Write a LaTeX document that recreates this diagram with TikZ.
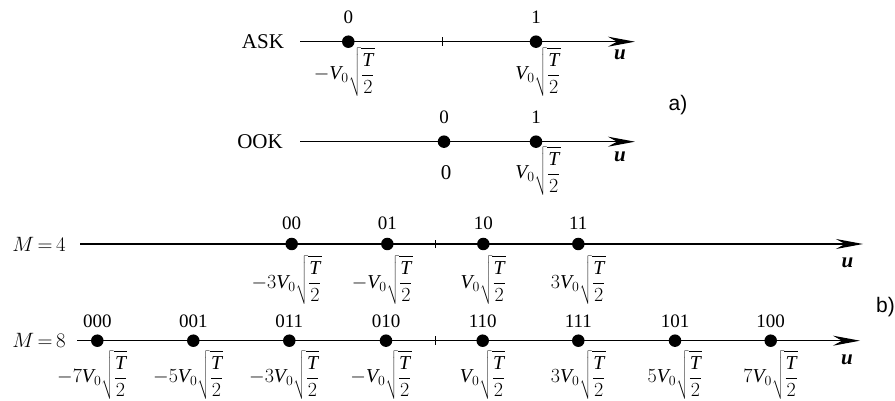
\documentclass[tikz,border=0pt]{standalone}
\usepackage{graphicx}
\usepackage{fontspec}
\setmainfont{Liberation Serif}
\newfontfamily\sansf{Liberation Sans}
\usetikzlibrary{arrows.meta,calc}
\newcommand\vv[1]{\scalebox{1.16}{$\displaystyle #1\mathit{V}_0\sqrt{\frac{\mathit{T}}{2}}$}}
\begin{document}
\begin{tikzpicture}[x=1pt,y=1pt,
  axis/.style={line width=1.2pt,-{Stealth[length=27pt,width=10pt,inset=9pt]}},
  tickmark/.style={line width=0.8pt},
  dotpt/.style={circle,fill=black,inner sep=0pt,minimum size=12.5pt},
  bits/.style={font=\fontsize{19}{21}\selectfont,inner sep=0pt},
  val/.style={font=\fontsize{17}{19}\selectfont,inner sep=0pt},
  rowname/.style={font=\fontsize{21}{23}\selectfont,inner sep=0pt},
  unode/.style={font=\fontsize{21}{23}\selectfont\bfseries\itshape,inner sep=0pt},
  part/.style={font=\fontsize{21}{23}\selectfont\sansf,inner sep=0pt}]
\useasboundingbox (0,0) rectangle (895,401);

% ---------- ASK ----------
\coordinate (askS) at (300,359.3);
\coordinate (askE) at (635,359.3);
\coordinate (askT) at (442.7,359.3);
\draw[axis] (askS) -- (askE);
\draw[tickmark] ($(askT)+(0,-4.2)$) -- ($(askT)+(0,4.2)$);
\node[rowname] (askL) at (263,359.3) {ASK};
\node[dotpt] (ask0) at (348.3,359.3) {};
\node[dotpt] (ask1) at (536,359.3) {};
\node[bits] (askb0) at ($(ask0)+(0,24)$) {0};
\node[bits] (askb1) at ($(ask1)+(0,24)$) {1};
\node[val] (askv0) at ($(ask0)+(-4,-30)$) {\vv{-}};
\node[val] (askv1) at ($(ask1)+(2,-30)$) {\vv{}};
\node[unode] (asku) at (620,346) {u};

% ---------- OOK ----------
\coordinate (ookS) at (300,259.3);
\coordinate (ookE) at (635,259.3);
\draw[axis] (ookS) -- (ookE);
\node[rowname] (ookL) at (260,259.3) {OOK};
\node[dotpt] (ook0) at (444,259.3) {};
\node[dotpt] (ook1) at (536,259.3) {};
\node[bits] (ookb0) at ($(ook0)+(0,24)$) {0};
\node[bits] (ookb1) at ($(ook1)+(0,24)$) {1};
\node[font=\fontsize{21}{23}\selectfont,inner sep=0pt] (ookv0) at ($(ook0)+(2,-31)$) {0};
\node[val] (ookv1) at ($(ook1)+(2,-29)$) {\vv{}};
\node[unode] (ooku) at (620,244) {u};

\node[part] (pa) at (678,296) {a)};

% ---------- M = 4 ----------
\coordinate (m4S) at (80,157);
\coordinate (m4E) at (863,157);
\coordinate (m4T) at (435.5,157);
\draw[axis] (m4S) -- (m4E);
\draw[tickmark] ($(m4T)+(0,-4.2)$) -- ($(m4T)+(0,4.2)$);
\node[rowname] (m4L) at (39,157) {$M\,{=}\,4$};
\foreach \x/\b/\c/\s [count=\i] in {291.7/00/-3/-5, 387.3/01/-/-5, 483.3/10/{}/0, 578.3/11/3/0}{
  \node[dotpt] (m4d\i) at (\x,157) {};
  \node[bits] (m4b\i) at ($(m4d\i)+(0,21)$) {\b};
  \node[val] (m4v\i) at ($(m4d\i)+(\s,-36)$) {\vv{\c}};
}
\node[unode] (m4u) at (847.5,138.5) {u};

% ---------- M = 8 ----------
\coordinate (m8S) at (77,60.3);
\coordinate (m8E) at (860,60.3);
\coordinate (m8T) at (435,60.3);
\draw[axis] (m8S) -- (m8E);
\draw[tickmark] ($(m8T)+(0,-4.2)$) -- ($(m8T)+(0,4.2)$);
\node[rowname] (m8L) at (39,60.3) {$M\,{=}\,8$};
\foreach \x/\b/\c/\s [count=\i] in {97.3/000/-7/-5, 193.3/001/-5/-5, 289.3/011/-3/-5, 386/010/-/-5, 482.7/110/{}/0, 578.3/111/3/0, 675/101/5/0, 770.7/100/7/0}{
  \node[dotpt] (m8d\i) at (\x,60.3) {};
  \node[bits] (m8b\i) at ($(m8d\i)+(0,19)$) {\b};
  \node[val] (m8v\i) at ($(m8d\i)+(\s,-34)$) {\vv{\c}};
}
\node[unode] (m8u) at (847,41) {u};

\node[part,anchor=east] (pb) at (895,93.5) {b)};
\end{tikzpicture}
\end{document}
